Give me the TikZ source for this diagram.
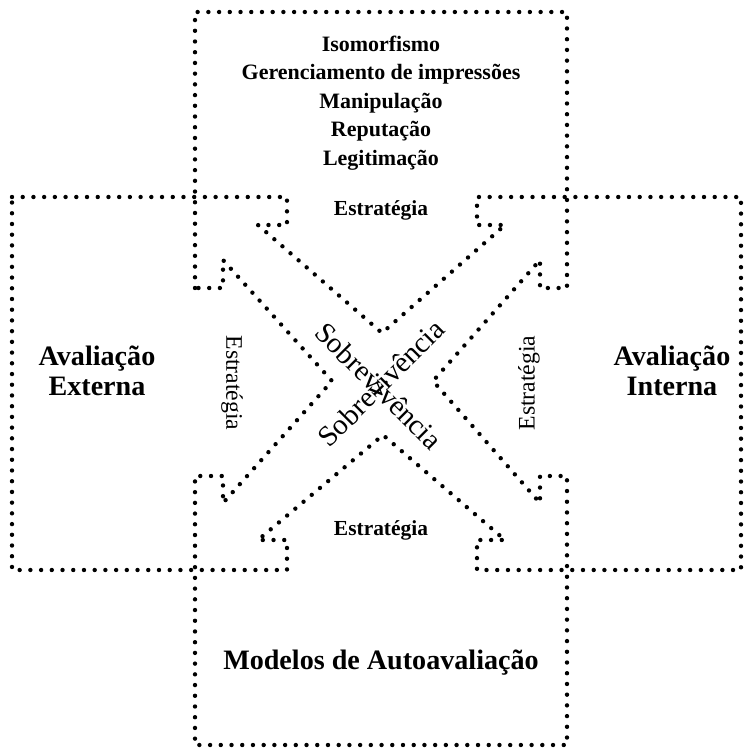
\documentclass[tikz,border=0pt]{standalone}
\usepackage{fontspec}
\setmainfont{Liberation Serif}

\tikzset{
    contorno/.style={line width=2.5pt, line cap=round, dash pattern=on 0pt off 6.1pt},
    lista/.style={font=\bfseries\fontsize{12.5}{16.2}\selectfont, align=center},
    titulo/.style={font=\bfseries\fontsize{16}{17}\selectfont, align=center},
    rotulo/.style={font=\bfseries\fontsize{12.2}{14}\selectfont},
    rotulofino/.style={font=\fontsize{13.5}{14}\selectfont},
    meio/.style={font=\fontsize{16.5}{18}\selectfont},
}

\begin{document}
\begin{tikzpicture}[x=0.02cm,y=-0.02cm]
    \useasboundingbox (0,0) rectangle (745,750);

    % vertical bar: top and bottom boxes joined by the side chevrons
    \draw[contorno]
        (195,288) -- (195,12) -- (567,12) -- (567,288) -- (540,288) -- (540,260)
        -- (433,381) -- (540,503) -- (540,476) -- (567,476) -- (567,745)
        -- (195,745) -- (195,476) -- (223,476) -- (223,503)
        -- (332,381) -- (223,260) -- (223,288) -- cycle;

    % horizontal bar: left and right boxes joined by the upper and lower chevrons
    \draw[contorno]
        (12,197) -- (287,197) -- (287,225) -- (258,225)
        -- (382,333) -- (505,225) -- (477,225) -- (477,197) -- (741,197)
        -- (741,570) -- (477,570) -- (477,540) -- (505,540)
        -- (383,435) -- (258,540) -- (287,540) -- (287,570) -- (12,570) -- cycle;

    \node[lista] (formas) at (381,103) {Isomorfismo\\Gerenciamento de impressões\\Manipulação\\Reputação\\Legitimação};

    \node[titulo] (externa) at (97,371) {Avaliação\\Externa};
    \node[titulo] (interna) at (672,371) {Avaliação\\Interna};
    \node[titulo] (modelos) at (381,663) {Modelos de Autoavaliação};

    \node[rotulo] (estcima) at (381,210) {Estratégia};
    \node[rotulo] (estbaixo) at (381,530) {Estratégia};
    \node[rotulofino, rotate=-90] (estesq) at (232,383) {Estratégia};
    \node[rotulofino, rotate=90] (estdir) at (529,383) {Estratégia};

    \node[meio, rotate=-45] (sobre1) at (379,386) {Sobrevivência};
    \node[meio, rotate=45] (sobre2) at (381,383) {Sobrevivência};
\end{tikzpicture}
\end{document}
